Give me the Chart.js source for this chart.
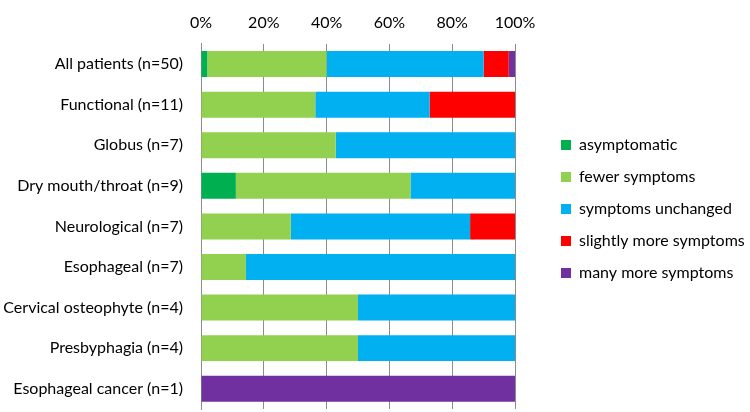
<!DOCTYPE html>
<html>
<head>
<meta charset="utf-8">
<script src="https://cdn.jsdelivr.net/npm/chart.js@4"></script>
<style>
  html, body { margin: 0; padding: 0; background: #fff; }
  #wrap { width: 750px; height: 412px; }
</style>
</head>
<body>
<div id="wrap"><canvas id="chart"></canvas></div>
<script>
const groups = ['All patients (n=50)', 'Functional (n=11)', 'Globus (n=7)', 'Dry mouth/throat (n=9)',
    'Neurological (n=7)', 'Esophageal (n=7)', 'Cervical osteophyte (n=4)', 'Presbyphagia (n=4)',
    'Esophageal cancer (n=1)'];

// percent of patients in each group
const asymptomatic = [2, 0, 0, 11.1, 0, 0, 0, 0, 0];
const fewer = [38, 36.4, 42.9, 55.6, 28.6, 14.3, 50, 50, 0];
const unchanged = [50, 36.4, 57.1, 33.3, 57.1, 85.7, 50, 50, 0];
const slightlyMore = [8, 27.2, 0, 0, 14.3, 0, 0, 0, 0];
const manyMore = [2, 0, 0, 0, 0, 0, 0, 0, 100];

const xTicks = [0, 20, 40, 60, 80, 100];

const font = "Lato, 'Open Sans', sans-serif";
const fontSize = 16;

// push the legend a bit away from the bars, like the original
const legendNudge = {
    id: 'legendNudge',
    afterLayout(chart) {
        const lg = chart.legend;
        lg.left += 30;
        lg.right = chart.width;
        lg.width = lg.right - lg.left;
        lg.top += 4; lg.bottom += 4;
    }
};

const ctx = document.getElementById('chart').getContext('2d');
new Chart(ctx, {
    type: 'bar',
    data: {
        labels: groups,
        datasets: [
            { label: 'asymptomatic', data: asymptomatic, backgroundColor: '#00B050' },
            { label: 'fewer symptoms', data: fewer, backgroundColor: '#92D050' },
            { label: 'symptoms unchanged', data: unchanged, backgroundColor: '#00B0F0' },
            { label: 'slightly more symptoms', data: slightlyMore, backgroundColor: '#FF0000' },
            { label: 'many more symptoms', data: manyMore, backgroundColor: '#7030A0' }
        ]
    },
    options: {
        indexAxis: 'y',
        responsive: true,
        maintainAspectRatio: false,
        animation: false,
        datasets: { bar: { categoryPercentage: 1, barPercentage: 0.64, borderWidth: 0 } },
        layout: { autoPadding: false, padding: { top: 1, right: 85, bottom: 3, left: 0 } },
        scales: {
            x: {
                position: 'top',
                stacked: true,
                min: 0,
                max: 100,
                afterBuildTicks: axis => { axis.ticks = xTicks.map(v => ({ value: v })); },
                ticks: {
                    callback: v => v + '%',
                    color: '#000',
                    padding: 11.8,
                    font: { family: font, size: fontSize }
                },
                grid: { color: '#8c8c8c', drawTicks: false },
                border: { display: false }
            },
            y: {
                stacked: true,
                afterFit: axis => {
                    axis.width = 201;
                    // label padding would otherwise eat space above and below the bars
                    axis.paddingTop = 0;
                    axis.paddingBottom = 0;
                },
                ticks: { color: '#000', padding: 18, font: { family: font, size: fontSize } },
                grid: { display: false, drawTicks: false },
                border: { color: '#8c8c8c' }
            }
        },
        plugins: {
            legend: {
                position: 'right',
                maxWidth: 150,
                labels: {
                    boxWidth: 10,
                    boxHeight: 10,
                    padding: 16,
                    color: '#000',
                    font: { family: font, size: fontSize }
                }
            },
            tooltip: { enabled: false }
        }
    },
    plugins: [legendNudge]
});
</script>
</body>
</html>
